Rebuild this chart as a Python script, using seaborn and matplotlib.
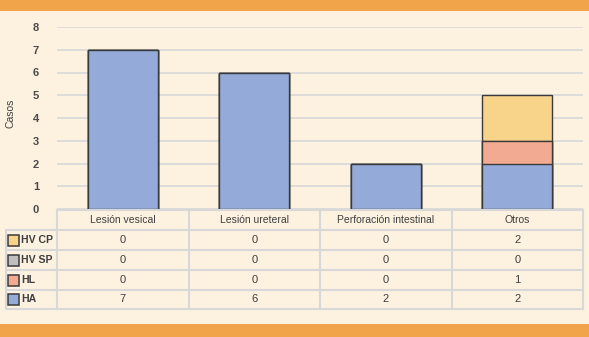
import numpy as np
import pandas as pd
import matplotlib
matplotlib.use("Agg")
import matplotlib.pyplot as plt
import matplotlib.transforms as mtransforms
from matplotlib.lines import Line2D
from matplotlib.patches import Rectangle
import seaborn as sns

categories = ["Lesión vesical", "Lesión ureteral", "Perforación intestinal", "Otros"]
series = ["HV CP", "HV SP", "HL", "HA"]
hv_cp = [0, 0, 0, 2]
hv_sp = [0, 0, 0, 0]
hl = [0, 0, 0, 1]
ha = [7, 6, 2, 2]
values = {"HV CP": hv_cp, "HV SP": hv_sp, "HL": hl, "HA": ha}
colors = {"HV CP": "#F8D48A", "HV SP": "#BFBFBF", "HL": "#F3AA92", "HA": "#94ABDA"}

bg = "#FDF1E0"
orange = "#F2A44B"
grid_c = "#D8D8D8"
txt_c = "#3F3F3F"

sns.set_theme(style="white")
plt.rcParams["font.family"] = ["Liberation Sans", "DejaVu Sans"]

W, H = 589, 337
fig = plt.figure(figsize=(W / 100, H / 100), dpi=100, facecolor=bg)


def fx(px):
    return px / W


def fy(py):
    return 1 - py / H


ax = fig.add_axes([fx(57), fy(209), fx(583) - fx(57), fy(27) - fy(209)])
ax.set_facecolor(bg)

# stacked bars: draw cumulative totals from the top series down
stack_order = ["HA", "HL", "HV SP", "HV CP"]
cum = np.zeros(len(categories))
cums = {}
for s in stack_order:
    cum = cum + np.array(values[s])
    cums[s] = cum.copy()
for s in reversed(stack_order):
    df = pd.DataFrame({"cat": categories, "val": cums[s]})
    sns.barplot(data=df, x="cat", y="val", color=colors[s], saturation=1,
                width=0.53, edgecolor="#3A3A3A", linewidth=1, ax=ax, zorder=3)

ax.set_xlim(-0.5, len(categories) - 0.5)
ax.set_ylim(0, 8)
ax.set_yticks(range(0, 9))
ax.yaxis.grid(True, color=grid_c, linewidth=1.2)
ax.set_axisbelow(True)
for sp in ax.spines.values():
    sp.set_visible(False)
ax.set_xticks([])
ax.set_xlabel("")
ax.set_ylabel("")
ax.tick_params(axis="y", length=0, pad=13, labelsize=8, labelcolor="#4A4A4A")
for t in ax.get_yticklabels():
    t.set_fontweight("bold")
fig.text(fx(11), fy(113), "Casos", rotation=90, ha="center", va="center",
         fontsize=7.5, color=txt_c)

# data table below the axis
trans = mtransforms.blended_transform_factory(ax.transData, fig.transFigure)
row_tops = [210, 230, 250, 270, 290, 309]
x_left = -0.5
x_right = len(categories) - 0.5


def hline(y, x0, x1, tr):
    fig.add_artist(Line2D([x0, x1], [fy(y), fy(y)], transform=tr,
                          color=grid_c, linewidth=1.5, clip_on=False))


def vline(x, y0, y1, tr):
    fig.add_artist(Line2D([x, x], [fy(y0), fy(y1)], transform=tr,
                          color=grid_c, linewidth=1.5, clip_on=False))


hline(row_tops[0], x_left, x_right, trans)
for y in row_tops[1:]:
    hline(y, fx(6), fx(583), fig.transFigure)
vline(fx(6), row_tops[1], row_tops[-1], fig.transFigure)
for i in range(len(categories) + 1):
    vline(i - 0.5, row_tops[0], row_tops[-1], trans)

for i, c in enumerate(categories):
    fig.text(i, fy(220), c, transform=trans, ha="center", va="center",
             fontsize=7.5, color=txt_c)

for r, s in enumerate(series):
    yc = (row_tops[r + 1] + row_tops[r + 2]) / 2
    fig.add_artist(Rectangle((fx(8), fy(yc + 5.5)), fx(11), fy(yc - 5.5) - fy(yc + 5.5),
                             transform=fig.transFigure, facecolor=colors[s],
                             edgecolor="#3A3A3A", linewidth=1.1))
    fig.text(fx(21), fy(yc), s, ha="left", va="center", fontsize=7.6,
             fontweight="bold", color=txt_c)
    for i, v in enumerate(values[s]):
        fig.text(i, fy(yc), str(v), transform=trans, ha="center", va="center",
                 fontsize=8, color=txt_c)

# orange bands
fig.add_artist(Rectangle((0, fy(11)), 1, 1 - fy(11), transform=fig.transFigure,
                         facecolor=orange, edgecolor="none"))
fig.add_artist(Rectangle((0, 0), 1, fy(324), transform=fig.transFigure,
                         facecolor=orange, edgecolor="none"))

fig.savefig("out.png", dpi=100, facecolor=bg)
